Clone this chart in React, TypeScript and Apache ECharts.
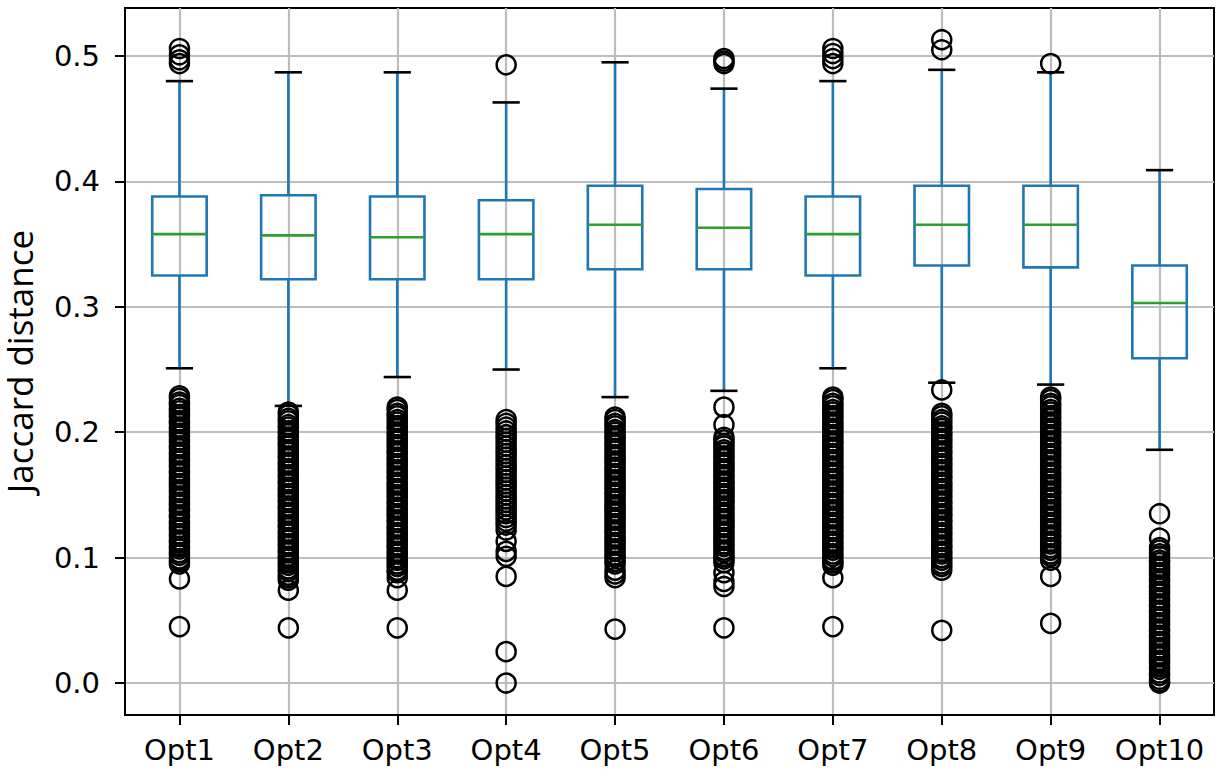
import React, { useEffect, useRef } from "react";
import * as echarts from "echarts";

const categories = ["Opt1", "Opt2", "Opt3", "Opt4", "Opt5", "Opt6", "Opt7", "Opt8", "Opt9", "Opt10"];
const whiskerLow = [0.251, 0.221, 0.244, 0.25, 0.228, 0.233, 0.251, 0.2395, 0.238, 0.186];
const quartile1 = [0.325, 0.322, 0.322, 0.322, 0.33, 0.33, 0.325, 0.333, 0.3315, 0.259];
const medians = [0.358, 0.357, 0.3555, 0.358, 0.3655, 0.363, 0.358, 0.3655, 0.3655, 0.303];
const quartile3 = [0.388, 0.389, 0.388, 0.385, 0.3966, 0.394, 0.388, 0.3966, 0.3966, 0.333];
const whiskerHigh = [0.48, 0.487, 0.487, 0.463, 0.495, 0.474, 0.48, 0.489, 0.487, 0.409];
const yTickValues = [0, 0.1, 0.2, 0.3, 0.4, 0.5];

const opt1Outliers = [0.506, 0.501, 0.497, 0.494,
  0.229, 0.227, 0.224, 0.222, 0.219, 0.217, 0.214, 0.212, 0.209, 0.207, 0.204, 0.202, 0.199, 0.197, 0.194, 0.192, 0.189, 0.187, 0.184, 0.182, 0.179, 0.177, 0.174, 0.172, 0.169, 0.167, 0.164, 0.162, 0.159, 0.157, 0.154, 0.152, 0.149, 0.147, 0.144, 0.142, 0.139, 0.137, 0.134, 0.132, 0.129, 0.127, 0.124, 0.122, 0.119, 0.117, 0.114, 0.112, 0.109, 0.107, 0.104, 0.102, 0.099, 0.097, 0.095,
  0.083, 0.045];
const opt2Outliers = [0.216, 0.214, 0.211, 0.209, 0.206, 0.204, 0.201, 0.199, 0.196, 0.194, 0.191, 0.189, 0.186, 0.184, 0.181, 0.179, 0.176, 0.174, 0.171, 0.169, 0.166, 0.164, 0.161, 0.159, 0.156, 0.154, 0.151, 0.149, 0.146, 0.144, 0.141, 0.139, 0.136, 0.134, 0.131, 0.129, 0.126, 0.124, 0.121, 0.119, 0.116, 0.114, 0.111, 0.109, 0.106, 0.104, 0.101, 0.099, 0.096, 0.094, 0.091, 0.089, 0.086, 0.084, 0.082,
  0.074, 0.044];
const opt3Outliers = [0.22, 0.218, 0.215, 0.213, 0.21, 0.208, 0.205, 0.203, 0.2, 0.198, 0.195, 0.193, 0.19, 0.188, 0.185, 0.183, 0.18, 0.178, 0.175, 0.173, 0.17, 0.168, 0.165, 0.163, 0.16, 0.158, 0.155, 0.153, 0.15, 0.148, 0.145, 0.143, 0.14, 0.138, 0.135, 0.133, 0.13, 0.128, 0.125, 0.123, 0.12, 0.118, 0.115, 0.113, 0.11, 0.108, 0.105, 0.103, 0.1, 0.098, 0.095, 0.093, 0.09, 0.088,
  0.084, 0.074, 0.044];
const opt4Outliers = [0.493,
  0.21, 0.207, 0.204, 0.201, 0.198, 0.195, 0.192, 0.189, 0.186, 0.183, 0.18, 0.177, 0.174, 0.171, 0.168, 0.165, 0.162, 0.159, 0.156, 0.153, 0.15, 0.147, 0.144, 0.141, 0.138, 0.135, 0.132, 0.129, 0.126,
  0.122, 0.113, 0.105, 0.101, 0.085, 0.025, 0.0];
const opt5Outliers = [0.212, 0.21, 0.207, 0.205, 0.202, 0.2, 0.197, 0.195, 0.192, 0.19, 0.187, 0.185, 0.182, 0.18, 0.177, 0.175, 0.172, 0.17, 0.167, 0.165, 0.162, 0.16, 0.157, 0.155, 0.152, 0.15, 0.147, 0.145, 0.142, 0.14, 0.137, 0.135, 0.132, 0.13, 0.127, 0.125, 0.122, 0.12, 0.117, 0.115, 0.112, 0.11, 0.107, 0.105, 0.102, 0.1, 0.097, 0.095,
  0.09, 0.087, 0.084, 0.043];
const opt6Outliers = [0.498, 0.496, 0.494, 0.22, 0.206,
  0.196, 0.194, 0.191, 0.189, 0.186, 0.184, 0.181, 0.179, 0.176, 0.174, 0.171, 0.169, 0.166, 0.164, 0.161, 0.159, 0.156, 0.154, 0.151, 0.149, 0.146, 0.144, 0.141, 0.139, 0.136, 0.134, 0.131, 0.129, 0.126, 0.124, 0.121, 0.119, 0.116, 0.114, 0.111, 0.109, 0.106, 0.104, 0.101, 0.099, 0.096,
  0.088, 0.081, 0.077, 0.044];
const opt7Outliers = [0.506, 0.502, 0.498, 0.494,
  0.228, 0.226, 0.223, 0.221, 0.218, 0.216, 0.213, 0.211, 0.208, 0.206, 0.203, 0.201, 0.198, 0.196, 0.193, 0.191, 0.188, 0.186, 0.183, 0.181, 0.178, 0.176, 0.173, 0.171, 0.168, 0.166, 0.163, 0.161, 0.158, 0.156, 0.153, 0.151, 0.148, 0.146, 0.143, 0.141, 0.138, 0.136, 0.133, 0.131, 0.128, 0.126, 0.123, 0.121, 0.118, 0.116, 0.113, 0.111, 0.108, 0.106, 0.103, 0.101, 0.098, 0.096, 0.094,
  0.084, 0.045];
const opt8Outliers = [0.513, 0.505, 0.2337,
  0.215, 0.213, 0.21, 0.208, 0.205, 0.203, 0.2, 0.198, 0.195, 0.193, 0.19, 0.188, 0.185, 0.183, 0.18, 0.178, 0.175, 0.173, 0.17, 0.168, 0.165, 0.163, 0.16, 0.158, 0.155, 0.153, 0.15, 0.148, 0.145, 0.143, 0.14, 0.138, 0.135, 0.133, 0.13, 0.128, 0.125, 0.123, 0.12, 0.118, 0.115, 0.113, 0.11, 0.108, 0.105, 0.103, 0.1, 0.098, 0.095, 0.093, 0.09,
  0.042];
const opt9Outliers = [0.494,
  0.228, 0.226, 0.223, 0.221, 0.218, 0.216, 0.213, 0.211, 0.208, 0.206, 0.203, 0.201, 0.198, 0.196, 0.193, 0.191, 0.188, 0.186, 0.183, 0.181, 0.178, 0.176, 0.173, 0.171, 0.168, 0.166, 0.163, 0.161, 0.158, 0.156, 0.153, 0.151, 0.148, 0.146, 0.143, 0.141, 0.138, 0.136, 0.133, 0.131, 0.128, 0.126, 0.123, 0.121, 0.118, 0.116, 0.113, 0.111, 0.108, 0.106, 0.103, 0.101, 0.098,
  0.085, 0.0476];
const opt10Outliers = [0.135, 0.1155,
  0.108, 0.106, 0.103, 0.101, 0.098, 0.096, 0.093, 0.091, 0.088, 0.086, 0.083, 0.081, 0.078, 0.076, 0.073, 0.071, 0.068, 0.066, 0.063, 0.061, 0.058, 0.056, 0.053, 0.051, 0.048, 0.046, 0.043, 0.041, 0.038, 0.036, 0.033, 0.031, 0.028, 0.026, 0.023, 0.021, 0.018, 0.016, 0.013, 0.011, 0.008, 0.006, 0.003, 0.001, 0.0];

const outlierLists = [opt1Outliers, opt2Outliers, opt3Outliers, opt4Outliers, opt5Outliers, opt6Outliers, opt7Outliers, opt8Outliers, opt9Outliers, opt10Outliers];

const BLUE = "#1f77b4";
const GREEN = "#2ca02c";
const GRID = "#bdbdbd";

export default function App() {
  const ref = useRef<HTMLDivElement>(null);
  useEffect(() => {
    if (!ref.current) return;
    const chart = echarts.init(ref.current, undefined, { renderer: "svg" });

    const boxData = categories.map((_, i) => [i + 1, whiskerLow[i], quartile1[i], medians[i], quartile3[i], whiskerHigh[i]]);
    const scatterData: number[][] = [];
    outlierLists.forEach((list, i) => list.forEach((v) => scatterData.push([i + 1, v])));

    const isNear = (v: number, step: number) => Math.abs(v / step - Math.round(v / step)) < 1e-6;

    chart.setOption({
      animation: false,
      grid: {
        left: 125,
        top: 8,
        width: 1089,
        height: 707,
        show: true,
        borderColor: "#000",
        borderWidth: 2,
        backgroundColor: "transparent",
        containLabel: false,
        outerBoundsMode: "none",
      },
      xAxis: {
        type: "value",
        min: 0.5,
        max: 10.5,
        minInterval: 1,
        maxInterval: 1,
        axisLine: { show: true, onZero: false, lineStyle: { color: "#000", width: 2 } },
        axisTick: { show: true, length: 10, inside: false, lineStyle: { color: "#000", width: 2 }, customValues: categories.map((_, i) => i + 1) },
        axisLabel: {
          margin: 20,
          color: "#000",
          fontFamily: "DejaVu Sans",
          fontSize: 29,
          formatter: (v: number) => (isNear(v, 1) && v >= 1 && v <= 10 ? categories[Math.round(v) - 1] : ""),
        },
        splitLine: { show: true, lineStyle: { color: GRID, width: 2.2 } },
      },
      yAxis: {
        type: "value",
        min: -0.0255,
        max: 0.5383,
        minInterval: 0.1,
        maxInterval: 0.1,
        name: "Jaccard distance",
        nameLocation: "middle",
        nameRotate: 90,
        nameGap: 88,
        nameTextStyle: { fontFamily: "Open Sans", fontSize: 35, lineHeight: 35, color: "#000" },
        axisLine: { show: true, onZero: false, lineStyle: { color: "#000", width: 2 } },
        axisTick: { show: true, length: 10, inside: false, lineStyle: { color: "#000", width: 2 }, customValues: yTickValues },
        axisLabel: {
          margin: 25,
          color: "#000",
          fontFamily: "DejaVu Sans",
          fontSize: 29,
          formatter: (v: number) => (isNear(v, 0.1) && v > -0.001 && v < 0.501 ? v.toFixed(1) : ""),
        },
        splitLine: { show: true, lineStyle: { color: GRID, width: 2.2 } },
      },
      series: [
        {
          type: "custom",
          silent: true,
          z: 3,
          encode: { x: 0, y: [1, 2, 3, 4, 5] },
          data: boxData,
          renderItem: (params: any, api: any) => {
            const x = api.value(0);
            const low = api.coord([x, api.value(1)]);
            const b1 = api.coord([x, api.value(2)]);
            const med = api.coord([x, api.value(3)]);
            const b3 = api.coord([x, api.value(4)]);
            const high = api.coord([x, api.value(5)]);
            const bw = api.size([0.5, 0])[0];
            const cw = api.size([0.25, 0])[0];
            const blue = { stroke: BLUE, lineWidth: 2.6, fill: "none" };
            const black = { stroke: "#000", lineWidth: 2.6, fill: "none" };
            return {
              type: "group",
              children: [
                { type: "line", shape: { x1: low[0], y1: low[1], x2: b1[0], y2: b1[1] }, style: blue },
                { type: "line", shape: { x1: high[0], y1: high[1], x2: b3[0], y2: b3[1] }, style: blue },
                { type: "rect", shape: { x: b1[0] - bw / 2, y: b3[1], width: bw, height: b1[1] - b3[1] }, style: blue },
                { type: "line", shape: { x1: med[0] - bw / 2, y1: med[1], x2: med[0] + bw / 2, y2: med[1] }, style: { stroke: GREEN, lineWidth: 2.6 } },
                { type: "line", shape: { x1: low[0] - cw / 2, y1: low[1], x2: low[0] + cw / 2, y2: low[1] }, style: black },
                { type: "line", shape: { x1: high[0] - cw / 2, y1: high[1], x2: high[0] + cw / 2, y2: high[1] }, style: black },
              ],
            };
          },
        },
        {
          type: "scatter",
          silent: true,
          z: 4,
          symbol: "circle",
          symbolSize: 19,
          data: scatterData,
          itemStyle: { color: "rgba(0,0,0,0)", borderColor: "#000", borderWidth: 2.5, opacity: 1 },
        },
      ],
    });
    return () => chart.dispose();
  }, []);

  return <div ref={ref} style={{ position: "fixed", left: 0, top: 0, width: 1224, height: 776, background: "#fff" }} />;
}
